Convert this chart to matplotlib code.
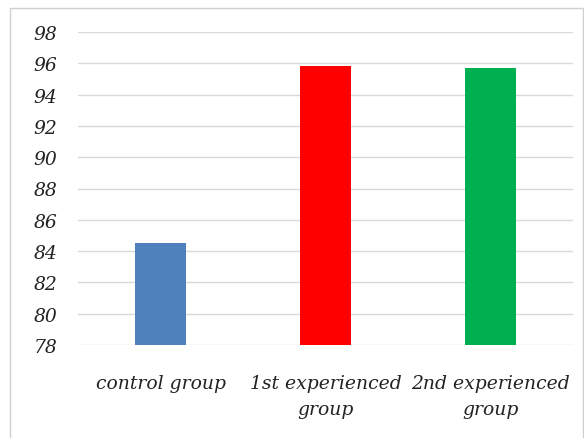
import matplotlib
matplotlib.use("Agg")
import matplotlib.pyplot as plt
from matplotlib.patches import Rectangle

categories = ["control group", "1st experienced\ngroup", "2nd experienced\ngroup"]
values = [84.5, 95.8, 95.7]
colors = ["#4F81BD", "#FF0000", "#00B050"]
yticks = [78, 80, 82, 84, 86, 88, 90, 92, 94, 96, 98]

W, H = 584, 439
fig = plt.figure(figsize=(W / 100, H / 100), dpi=100)
ax = fig.add_axes([78 / W, 1 - 346 / H, (573 - 78) / W, (346 - 33) / H])

font = dict(family="DejaVu Serif", style="italic", size=13.5, color="#222222")

x = list(range(len(categories)))
ax.bar(x, values, width=0.315, color=colors, zorder=3)
ax.set_xlim(-0.5, 2.5)
ax.set_ylim(78, 98)
ax.set_yticks(yticks)
ax.set_yticklabels([str(t) for t in yticks], fontdict=font)
ax.set_xticks(x)
ax.set_xticklabels(categories, fontdict=font, linespacing=1.55)
ax.tick_params(axis="both", length=0)
ax.tick_params(axis="y", pad=15)
ax.tick_params(axis="x", pad=21)
ax.grid(axis="y", color="#D9D9D9", linewidth=1, zorder=0)
for s in ax.spines.values():
    s.set_visible(False)

fig.patches.append(Rectangle((10 / W, -0.01), (583 - 10) / W, 1.01 - 9 / H,
                             transform=fig.transFigure, fill=False,
                             edgecolor="#D0D0D0", linewidth=1))
fig.savefig("out.png", dpi=100)
